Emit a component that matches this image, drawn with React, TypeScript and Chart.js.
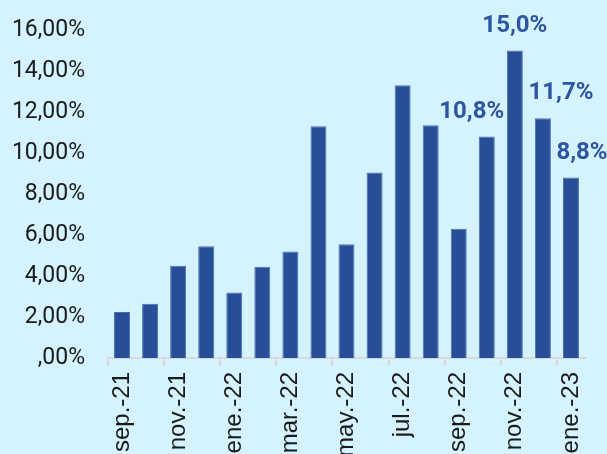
import React, { useEffect, useRef } from "react";
import { Chart, registerables } from "chart.js";

Chart.register(...registerables);

const categories = [
  "sep.-21", "oct.-21", "nov.-21", "dic.-21", "ene.-22", "feb.-22", "mar.-22", "abr.-22",
  "may.-22", "jun.-22", "jul.-22", "ago.-22", "sep.-22", "oct.-22", "nov.-22", "dic.-22", "ene.-23",
];
const values = [2.25, 2.65, 4.5, 5.45, 3.2, 4.45, 5.2, 11.3, 5.55, 9.05, 13.3, 11.35, 6.3, 10.8, 15.0, 11.7, 8.8];
const labeledIndices = [13, 14, 15, 16];
const yTicks = [0, 2, 4, 6, 8, 10, 12, 14, 16];

const BG = "#d5f3fe";
const BAR = "#274f97";
const LABEL_COLOR = "#2e55a1";

const fmtTick = (v: number) => (v === 0 ? ",00%" : v.toFixed(2).replace(".", ",") + "%");
const fmtLabel = (v: number) => v.toFixed(1).replace(".", ",") + "%";

const labelOffsets: Record<number, number> = { 13: -15, 14: 0, 15: 18, 16: 11 };

const dataLabelPlugin = {
  id: "dataLabels",
  afterDatasetsDraw(chart: any) {
    const ctx = chart.ctx;
    const meta = chart.getDatasetMeta(0);
    ctx.save();
    ctx.font = "bold 24px Roboto";
    ctx.fillStyle = LABEL_COLOR;
    ctx.textAlign = "center";
    ctx.textBaseline = "middle";
    labeledIndices.forEach((i) => {
      const el = meta.data[i];
      if (!el) return;
      ctx.fillText(fmtLabel(values[i]), el.x + (labelOffsets[i] || 0), el.y - 25);
    });
    ctx.restore();
  },
};

export default function App() {
  const ref = useRef<HTMLCanvasElement>(null);
  useEffect(() => {
    if (!ref.current) return;
    const chart = new Chart(ref.current, {
      type: "bar",
      data: {
        labels: categories,
        datasets: [
          {
            data: values,
            backgroundColor: BAR,
            borderColor: "#4a72b5",
            borderWidth: 1,
            barPercentage: 0.57,
            categoryPercentage: 1,
          },
        ],
      },
      options: {
        responsive: false,
        animation: false,
        layout: { padding: { top: 30, right: 22, left: 0, bottom: 0 } },
        plugins: { legend: { display: false }, tooltip: { enabled: false } },
        scales: {
          x: {
            offset: true,
            grid: {
              offset: true,
              drawOnChartArea: false,
              drawTicks: true,
              tickLength: 8,
              lineWidth: 2,
              color: (c: any) => (c.index % 2 === 0 ? "#d9d9d9" : "rgba(0,0,0,0)"),
            },
            border: { display: true, color: "#d9d9d9", width: 2 },
            ticks: {
              autoSkip: false,
              minRotation: 90,
              maxRotation: 90,
              padding: 6,
              color: "#1a1a1a",
              font: { family: "Liberation Sans", size: 24 },
              callback: (_v: any, i: number) => (i % 2 === 0 ? categories[i] : ""),
            },
            afterFit: (s: any) => {
              s.height = 96;
              s.paddingLeft = 0;
              s.paddingRight = 0;
              s.paddingTop = 0;
              s.paddingBottom = 0;
            },
          },
          y: {
            min: 0,
            max: 16,
            grid: { display: false, drawTicks: false },
            border: { display: false },
            afterBuildTicks: (s: any) => {
              s.ticks = yTicks.map((v) => ({ value: v }));
            },
            ticks: {
              padding: 23,
              color: "#1a1a1a",
              font: { family: "Roboto", size: 23 },
              callback: (v: any) => fmtTick(Number(v)),
            },
            afterFit: (s: any) => {
              s.width = 108;
              s.paddingTop = 0;
              s.paddingBottom = 0;
            },
          },
        },
      },
      plugins: [dataLabelPlugin],
    });
    return () => chart.destroy();
  }, []);
  return (
    <div style={{ position: "fixed", left: 0, top: 0, width: 607, height: 454, background: BG, overflow: "hidden" }}>
      <canvas ref={ref} width={607} height={454} style={{ display: "block" }} />
    </div>
  );
}
